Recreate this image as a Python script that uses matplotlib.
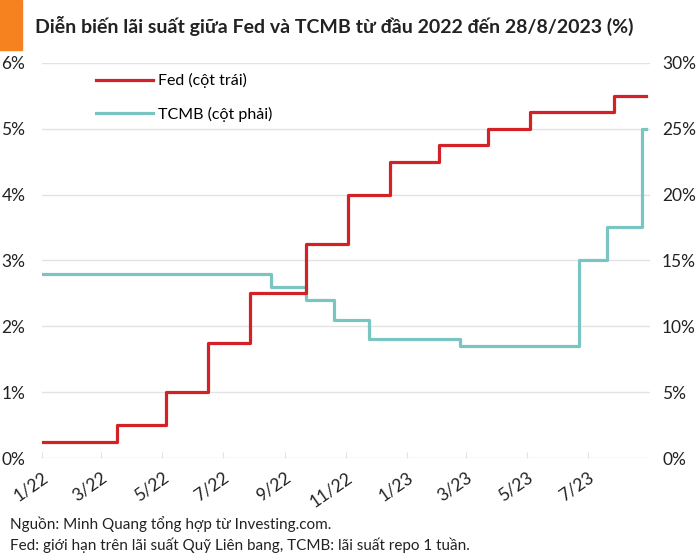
import matplotlib
matplotlib.use("Agg")
import matplotlib.pyplot as plt
import matplotlib.patches as mpatches
import pandas as pd

plt.rcParams['font.family'] = ['Lato', 'DejaVu Sans']

# Fed upper bound, % (step changes)
fed_dates = ["2022-01-01", "2022-03-17", "2022-05-05", "2022-06-16", "2022-07-28",
             "2022-09-22", "2022-11-03", "2022-12-15", "2023-02-02", "2023-03-23",
             "2023-05-04", "2023-07-27", "2023-08-28"]
fed_rate = [0.25, 0.5, 1.0, 1.75, 2.5, 3.25, 4.0, 4.5, 4.75, 5.0, 5.25, 5.5, 5.5]

# TCMB 1-week repo, %
tcmb_dates = ["2022-01-01", "2022-08-18", "2022-09-22", "2022-10-20", "2022-11-24",
              "2023-02-23", "2023-06-22", "2023-07-20", "2023-08-24", "2023-08-28"]
tcmb_rate = [14, 13, 12, 10.5, 9, 8.5, 15, 17.5, 25, 25]

tick_dates = ["2022-01-01", "2022-03-01", "2022-05-01", "2022-07-01", "2022-09-01",
              "2022-11-01", "2023-01-01", "2023-03-01", "2023-05-01", "2023-07-01"]
tick_labels = ["1/22", "3/22", "5/22", "7/22", "9/22", "11/22", "1/23", "3/23", "5/23", "7/23"]

red = "#D42027"
teal = "#7AC5C2"
grid = "#E3E3E3"
txt = "#222222"

fig = plt.figure(figsize=(7, 5.6), dpi=100)
ax = fig.add_axes([0.06, 0.182, 0.868, 0.706])
ax2 = ax.twinx()

fd = pd.to_datetime(fed_dates)
td = pd.to_datetime(tcmb_dates)

ax.step(fd, fed_rate, where="post", color=red, lw=2.3, label="Fed (cột trái)", zorder=3)
ax2.step(td, tcmb_rate, where="post", color=teal, lw=2.3, label="TCMB (cột phải)", zorder=2)

ax.set_xlim(pd.Timestamp("2022-01-01"), pd.Timestamp("2023-09-01"))
ax.set_ylim(0, 6)
ax2.set_ylim(0, 30)
ax.set_yticks(range(0, 7))
ax.set_yticklabels([f"{v}%" for v in range(0, 7)])
ax2.set_yticks(range(0, 31, 5))
ax2.set_yticklabels([f"{v}%" for v in range(0, 31, 5)])

ax.set_xticks(pd.to_datetime(tick_dates))
ax.set_xticklabels(tick_labels, rotation=35, ha="right", rotation_mode="anchor")

# grid on the back axes so it stays under both lines
ax2.grid(axis="y", color=grid, lw=1)
ax2.set_axisbelow(True)
for a in (ax, ax2):
    for s in a.spines.values():
        s.set_visible(False)
ax.tick_params(axis="y", length=0, labelsize=12.5, colors=txt, pad=12)
ax2.tick_params(axis="y", length=0, labelsize=12.5, colors=txt, pad=9)
ax.tick_params(axis="x", length=4, color=grid, labelsize=12.5, colors=txt, direction="in", pad=8)
ax.set_zorder(ax2.get_zorder() + 1)
ax.patch.set_visible(False)

h1, l1 = ax.get_legend_handles_labels()
h2, l2 = ax2.get_legend_handles_labels()
ax.legend(h1 + h2, l1 + l2, loc="upper left", bbox_to_anchor=(0.065, 1.01), frameon=False,
          fontsize=11.5, handlelength=3.6, labelspacing=1.15, handletextpad=0.3)

fig.patches.append(mpatches.Rectangle((0, 1 - 50 / 560), 22 / 700, 50 / 560,
                                      transform=fig.transFigure, color="#F5821F"))
fig.text(0.05, 0.953, "Diễn biến lãi suất giữa Fed và TCMB từ đầu 2022 đến 28/8/2023 (%)",
         fontsize=14, fontweight="bold", color=txt, va="center")
fig.text(0.014, 0.065, "Nguồn: Minh Quang tổng hợp từ Investing.com.", fontsize=11, color=txt, va="center")
fig.text(0.014, 0.027, "Fed: giới hạn trên lãi suất Quỹ Liên bang, TCMB: lãi suất repo 1 tuần.",
         fontsize=11, color=txt, va="center")

fig.savefig("out.png", dpi=100)
